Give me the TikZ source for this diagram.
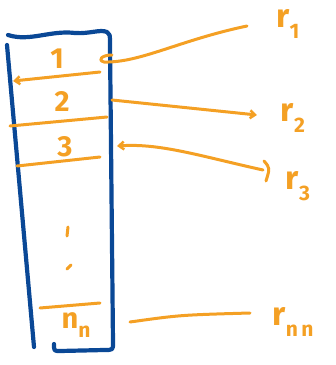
\documentclass[tikz,border=0pt]{standalone}
\usepackage{fontspec}
\setmainfont{Fira Sans}
\usetikzlibrary{arrows.meta}
\definecolor{penblue}{HTML}{0A4896}
\definecolor{penorange}{HTML}{F4A024}
\newcommand\lowsub[1]{\raisebox{-0.6ex}{\fontsize{21}{21}\selectfont #1}}
\tikzset{
  blueink/.style={draw=penblue, line width=4.2pt, line cap=round, line join=round},
  orangeink/.style={draw=penorange, line width=3pt, line cap=round, line join=round},
  digit/.style={text=penorange, font=\fontsize{29}{29}\selectfont\bfseries, inner sep=0pt},
  rlabel/.style={text=penorange, font=\fontsize{33}{33}\selectfont\bfseries, inner sep=0pt},
  barb/.tip={Straight Barb[length=5pt,width=8pt,line width=2.5pt]}
}
\begin{document}
\begin{tikzpicture}[x=1pt,y=-1pt]
\useasboundingbox (0,0) rectangle (336,365);
% box
\draw[blueink] (8,35) .. controls (30,42) and (50,30) .. (75,33)
  .. controls (90,34) and (100,29) .. (107,32) .. controls (110,34) .. (110,45)
  -- (113,343) .. controls (113,350) .. (104,350) -- (60,351) .. controls (54,351) .. (54,344);
\draw[blueink] (7,45) -- (34,347);
% entries
\node[digit] (one) at (57,59) {1};
\node[digit] (two) at (62,101) {2};
\node[digit] (three) at (65,147) {3};
\node[digit] (nn) at (76,325) {n\lowsub{n}};
\coordinate (s1l) at (13,81); \coordinate (s1r) at (100,72);
\coordinate (s2l) at (10,126); \coordinate (s2r) at (107,117);
\coordinate (s3l) at (17,166); \coordinate (s3r) at (100,157);
\coordinate (s4l) at (40,308); \coordinate (s4r) at (100,303);
\draw[orangeink, barb-] (s1l) -- (s1r);
\draw[orangeink] (s2l) -- (s2r);
\draw[orangeink] (s3l) -- (s3r);
\draw[orangeink] (s4l) -- (s4r);
% dots
\draw[orangeink] (68,227) -- (67,236);
\draw[orangeink] (67,269) -- (71,265);
% right labels
\node[rlabel] (r1) at (288,24) {r\lowsub{1}};
\node[rlabel] (r2) at (293,118) {r\lowsub{2}};
\node[rlabel] (r3) at (298,186) {r\lowsub{3}};
\node[rlabel] (rn) at (293,322) {r\lowsub{n\,n}};
% connectors
\coordinate (c1) at (104,62);
\coordinate (e1) at (247,26);
\draw[orangeink] (e1) .. controls (180,40) and (140,63) .. (c1)
  .. controls (97,60) and (102,55) .. (112,55);
\coordinate (c2) at (112,100);
\coordinate (e2) at (257,115);
\draw[orangeink, -barb] (c2) -- (e2);
\coordinate (c3) at (117,146);
\coordinate (e3) at (263,170);
\draw[orangeink, barb-] (c3) .. controls (160,143) and (200,156) .. (e3);
\draw[orangeink] (264,161) .. controls (270,168) .. (266,181);
\coordinate (c4) at (130,322);
\coordinate (e4) at (250,313);
\draw[orangeink] (c4) .. controls (180,315) .. (e4);
\end{tikzpicture}
\end{document}
